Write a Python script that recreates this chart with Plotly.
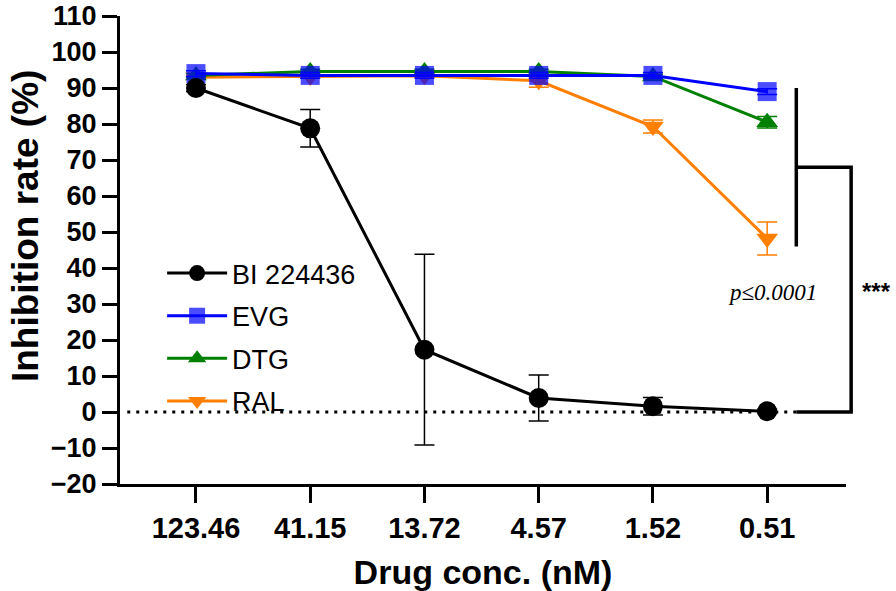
import plotly.graph_objects as go

conc_labels = ["123.46", "41.15", "13.72", "4.57", "1.52", "0.51"]
x_idx = list(range(len(conc_labels)))

bi_vals = [90.0, 78.8, 17.3, 3.9, 1.6, 0.2]
bi_err = [1.0, 5.2, 26.5, 6.4, 2.4, 0.6]
evg_vals = [94.0, 93.5, 93.5, 93.5, 93.5, 89.0]
evg_err = [0.8, 0.8, 0.8, 0.8, 0.8, 0.8]
dtg_vals = [93.5, 94.6, 94.6, 94.6, 93.2, 80.5]
dtg_err = [0.5, 0.6, 0.6, 0.6, 0.6, 1.6]
ral_vals = [93.0, 93.2, 93.4, 92.0, 79.3, 48.2]
ral_err = [0.5, 0.5, 0.5, 1.8, 1.8, 4.6]

y_min, y_max = -20, 110
x_min, x_max = -0.665, 5.69

# significance bracket (values in data units)
br_top, br_bot, br_mid, br_base = 90.0, 46.0, 68.0, 0.0
br_x_inner, br_x_outer = 5.255, 5.735

FONT = "Liberation Sans, Arial, Helvetica, sans-serif"

fig = go.Figure()

series = [
    ("RAL", ral_vals, ral_err, "#ff7f00", "triangle-down", "#ff7f00", 4, 19),
    ("DTG", dtg_vals, dtg_err, "#008000", "triangle-up", "#008000", 3, 19),
    ("EVG", evg_vals, evg_err, "#0000ff", "square", "rgba(0,0,255,0.7)", 2, 19),
    ("BI 224436", bi_vals, bi_err, "#000000", "circle", "#000000", 1, 20),
]
for name, vals, err, col, sym, mcol, rank, msize in series:
    fig.add_trace(go.Scatter(
        x=x_idx, y=vals, name=name, mode="lines+markers",
        line=dict(color=col, width=3),
        marker=dict(symbol=sym, size=msize, color=mcol, line=dict(width=0)),
        error_y=dict(type="data", array=err, visible=True, color=col,
                     thickness=1.5, width=10),
        legendrank=rank, legendgroup=name,
        cliponaxis=False,
    ))

def xf(v):
    return (v - x_min) / (x_max - x_min)

def yf(v):
    return (v - y_min) / (y_max - y_min)

shapes = [
    # dotted zero line
    dict(type="line", xref="x domain", yref="y domain",
         x0=0.01, x1=xf(br_x_inner), y0=yf(0), y1=yf(0),
         line=dict(color="black", width=3, dash="3px,6px")),
    # bracket
    dict(type="line", xref="x domain", yref="y domain",
         x0=xf(br_x_inner), x1=xf(br_x_inner), y0=yf(br_bot), y1=yf(br_top),
         line=dict(color="black", width=3.5)),
    dict(type="path", xref="x domain", yref="y domain",
         path=f"M {xf(br_x_inner)} {yf(br_mid)} L {xf(br_x_outer)} {yf(br_mid)} "
              f"L {xf(br_x_outer)} {yf(br_base)} L {xf(br_x_inner)} {yf(br_base)}",
         line=dict(color="black", width=3.5)),
]

annotations = [
    dict(xref="x domain", yref="y domain", x=xf(5.05), y=yf(33.3),
         text="<i>p≤0.0001</i>", showarrow=False,
         font=dict(family="Liberation Serif, Times New Roman, serif", size=23, color="black"),
         xanchor="center", yanchor="middle"),
    dict(xref="x domain", yref="y domain", x=xf(5.81), y=yf(33.5),
         text="<b>***</b>", showarrow=False,
         font=dict(family=FONT, size=24, color="black"),
         xanchor="left", yanchor="middle"),
    dict(xref="paper", yref="paper", x=-0.131, y=0.551,
         text="<b>Inhibition rate (%)</b>", showarrow=False, textangle=-90,
         font=dict(family=FONT, size=37, color="black"),
         xanchor="center", yanchor="middle"),
]

fig.update_layout(
    width=896, height=591,
    margin=dict(l=120, r=50, t=16, b=107, autoexpand=False),
    paper_bgcolor="white", plot_bgcolor="white",
    font=dict(family=FONT, color="black"),
    showlegend=True,
    legend=dict(x=0.058, y=0.502, xanchor="left", yanchor="top",
                bgcolor="rgba(0,0,0,0)", font=dict(size=27, family=FONT),
                tracegroupgap=4.5, traceorder="grouped", itemwidth=60),
    shapes=shapes, annotations=annotations,
    xaxis=dict(range=[x_min, x_max], tickvals=x_idx, ticktext=conc_labels,
               showgrid=False, zeroline=False, showline=True, linecolor="black",
               linewidth=3, ticks="outside", ticklen=16, tickwidth=3,
               tickcolor="black", automargin=False,
               tickfont=dict(size=29, family=FONT, weight="bold"),
               title=dict(text="<b>Drug conc. (nM)</b>", font=dict(size=34), standoff=18)),
    yaxis=dict(range=[y_min, y_max], tickvals=list(range(-20, 111, 10)),
               showgrid=False, zeroline=False, showline=True, linecolor="black",
               linewidth=3, ticks="outside", ticklen=15, tickwidth=3,
               tickcolor="black", automargin=False, ticklabeloverflow="allow",
               tickfont=dict(size=27, family=FONT, weight="bold")),
)

# remove the default 8px page margin so the figure fills the window exactly
fig.write_html("out.html", config={"displayModeBar": False},
               post_script="document.body.style.margin='0px';")
